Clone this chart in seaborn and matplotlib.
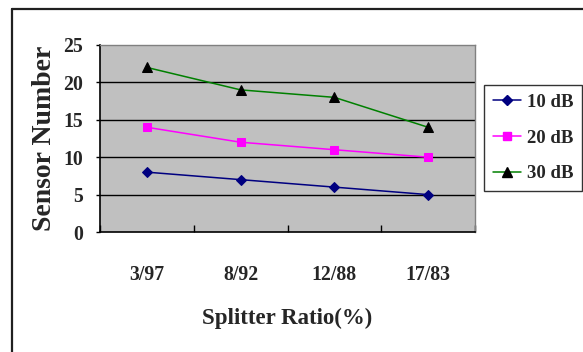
import matplotlib
matplotlib.use("Agg")
import matplotlib.pyplot as plt
from matplotlib.lines import Line2D
import seaborn as sns
import pandas as pd

# Sensor counts per splitter ratio for each power budget
ratios = ["3/97", "8/92", "12/88", "17/83"]
db10 = [8, 7, 6, 5]
db20 = [14, 12, 11, 10]
db30 = [22, 19, 18, 14]
series_names = ["10 dB", "20 dB", "30 dB"]
y_ticks = [0, 5, 10, 15, 20, 25]

sns.set_theme(style="white")
plt.rcParams["font.family"] = ["Liberation Serif", "DejaVu Serif"]
plt.rcParams["font.weight"] = "bold"

fig = plt.figure(figsize=(5.83, 3.52), dpi=100)
ax = fig.add_axes([100 / 583, 1 - 232 / 352, 375 / 583, 187 / 352])
ax.set_facecolor("#C0C0C0")

styles = [
    dict(color="#000080", marker="D", mfc="#000080", mec="#000080", ms=5.5),
    dict(color="#FF00FF", marker="s", mfc="#FF00FF", mec="#FF00FF", ms=5.5),
    dict(color="#008000", marker="^", mfc="black", mec="black", ms=6.5),
]

df = pd.DataFrame({"ratio": ratios * 3,
                   "value": db10 + db20 + db30,
                   "series": sum([[n] * len(ratios) for n in series_names], [])})

for name, st in zip(series_names, styles):
    sub = df[df["series"] == name]
    sns.lineplot(data=sub, x="ratio", y="value", ax=ax, color=st["color"],
                 marker=st["marker"], markerfacecolor=st["mfc"],
                 markeredgecolor=st["mec"], markersize=st["ms"],
                 linewidth=1.1, sort=False, legend=False, zorder=3)

ax.set_xlim(-0.5, len(ratios) - 0.5)
ax.set_ylim(0, 25)
ax.set_yticks(y_ticks)
for v in y_ticks[1:-1]:
    ax.axhline(v, color="black", lw=1.0, zorder=1)

# category labels at centres, tick marks on category boundaries
ax.set_xticks(range(len(ratios)))
ax.set_xticklabels(ratios)
ax.set_xticks([i - 0.5 for i in range(len(ratios) + 1)], minor=True)
ax.tick_params(axis="x", which="major", length=0, pad=24, labelsize=14.2)
ax.tick_params(axis="x", which="minor", length=5, width=1, direction="in",
               color="black", bottom=True)
ax.tick_params(axis="y", which="major", length=3, width=1, direction="out",
               color="black", left=True, pad=9, labelsize=14.2)
for lab in ax.get_xticklabels() + ax.get_yticklabels():
    lab.set_fontweight("bold")

for side in ["left", "bottom"]:
    ax.spines[side].set_color("black")
    ax.spines[side].set_linewidth(1.2)
for side in ["top", "right"]:
    ax.spines[side].set_color("#808080")
    ax.spines[side].set_linewidth(1.0)
ax.spines["top"].set_visible(True)
ax.spines["right"].set_visible(True)

ax.set_xlabel("")
ax.set_ylabel("")
fig.text(45 / 583, 1 - 138 / 352, "Sensor Number", rotation=90, ha="center",
         va="center", fontsize=20, fontweight="bold")
fig.text(287 / 583, 1 - 318 / 352, "Splitter Ratio(%)", ha="center",
         va="center", fontsize=16.5, fontweight="bold")

handles = [Line2D([], [], color=st["color"], marker=st["marker"],
                  markerfacecolor=st["mfc"], markeredgecolor=st["mec"],
                  markersize=st["ms"], linewidth=1.1) for st in styles]
leg = fig.legend(handles, series_names, loc="center",
                 bbox_to_anchor=(533 / 583, 1 - 138 / 352),
                 frameon=True, fancybox=False, shadow=False,
                 prop={"weight": "bold", "size": 13.5},
                 handlelength=1.5, handletextpad=0.3, labelspacing=1.0,
                 borderpad=0.48, borderaxespad=0)
leg.get_frame().set_edgecolor("black")
leg.get_frame().set_linewidth(1.0)

# outer chart frame (top and left edges)
fig.add_artist(Line2D([12 / 583, 1.0], [1 - 9 / 352, 1 - 9 / 352],
                      transform=fig.transFigure, color="#202020", lw=1.6))
fig.add_artist(Line2D([12 / 583, 12 / 583], [0.0, 1 - 9 / 352],
                      transform=fig.transFigure, color="#202020", lw=1.6))

fig.savefig("out.png", dpi=100)
